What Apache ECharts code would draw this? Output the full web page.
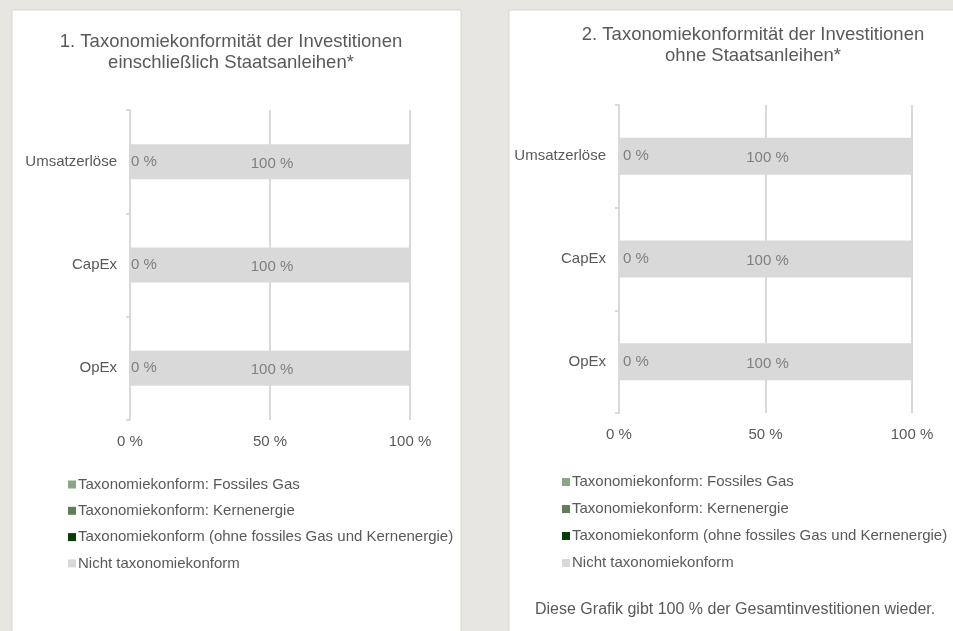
<!DOCTYPE html>
<html>
<head>
<meta charset="utf-8">
<script src="https://cdn.jsdelivr.net/npm/echarts@6/dist/echarts.min.js"></script>
<style>
html,body{margin:0;padding:0;background:#e8e6e1;}
#chart{width:953px;height:631px;}
</style>
</head>
<body>
<div id="chart"></div>
<script>
// ---- data ----
const categories = ['Umsatzerlöse', 'CapEx', 'OpEx'];
const seriesNames = [
  'Taxonomiekonform: Fossiles Gas',
  'Taxonomiekonform: Kernenergie',
  'Taxonomiekonform (ohne fossiles Gas und Kernenergie)',
  'Nicht taxonomiekonform'
];
const seriesColors = ['#8aa684', '#5e7f58', '#0b3b0b', '#d9d9d9'];
// Chart 1: including sovereign bonds
const gas1 = [0, 0, 0];
const nuclear1 = [0, 0, 0];
const aligned1 = [0, 0, 0];
const notAligned1 = [100, 100, 100];
// Chart 2: excluding sovereign bonds
const gas2 = [0, 0, 0];
const nuclear2 = [0, 0, 0];
const aligned2 = [0, 0, 0];
const notAligned2 = [100, 100, 100];
const xTickValues = [0, 50, 100];

const title1 = '1. Taxonomiekonformität der Investitionen\neinschließlich Staatsanleihen*';
const title2 = '2. Taxonomiekonformität der Investitionen\nohne Staatsanleihen*';
const footnote = 'Diese Grafik gibt 100 % der Gesamtinvestitionen wieder.';

// ---- styles ----
const FONT = '"Liberation Sans", Arial, sans-serif';
const TXT = '#595959';
const LBL = '#7f7f7f';
const GRID = '#d9d9d9';

const chart = echarts.init(document.getElementById('chart'), null, {renderer: 'canvas'});

function makeSeries(gridIdx, vals, barW, zeroDist) {
  return vals.map((v, i) => {
    const s = {
      name: seriesNames[i],
      type: 'bar',
      stack: 'total' + gridIdx,
      xAxisIndex: gridIdx,
      yAxisIndex: gridIdx,
      barWidth: barW,
      data: v,
      itemStyle: {color: seriesColors[i]},
      label: {show: false},
      emphasis: {disabled: true}
    };
    if (i === 2) {
      s.label = {show: true, position: 'right', distance: zeroDist, formatter: '{c} %',
        color: LBL, fontSize: 15, fontFamily: FONT};
    }
    if (i === 3) {
      s.label = {show: true, position: 'inside', offset: [2, 2], formatter: '{c} %',
        color: LBL, fontSize: 15, fontFamily: FONT};
    }
    return s;
  });
}

function xAx(gridIdx, margin) {
  return {
    gridIndex: gridIdx, type: 'value', min: 0, max: 100, interval: 50,
    axisLine: {show: false}, axisTick: {show: false},
    splitLine: {show: true, lineStyle: {color: GRID, width: 2}},
    axisLabel: {margin: margin, color: TXT, fontSize: 15, fontFamily: FONT,
      formatter: v => xTickValues.includes(v) ? v + ' %' : ''}
  };
}
function yAx(gridIdx) {
  return {
    gridIndex: gridIdx, type: 'category', inverse: true, data: categories,
    axisLine: {show: true, lineStyle: {color: GRID, width: 2}},
    axisTick: {show: true, length: 4, lineStyle: {color: GRID, width: 2}},
    axisLabel: {margin: 13, color: TXT, fontSize: 15, fontFamily: FONT},
    splitLine: {show: false}
  };
}

function legendAt(left, top, gap) {
  return {
    left: left, top: top,
    orient: 'vertical', itemWidth: 8, itemHeight: 8, itemGap: gap, padding: 0,
    icon: 'rect', selectedMode: false,
    textStyle: {color: TXT, fontSize: 15, fontFamily: FONT, lineHeight: 15, padding: [0, 0, 0, -3]},
    data: seriesNames
  };
}

const option = {
  animation: false,
  backgroundColor: '#e8e6e1',
  graphic: [
    {type: 'rect', shape: {x: 12, y: 10, width: 449, height: 640},
      style: {fill: '#ffffff', stroke: '#d8d6d1', lineWidth: 1}, z: -10},
    {type: 'rect', shape: {x: 509, y: 10, width: 460, height: 640},
      style: {fill: '#ffffff', stroke: '#d8d6d1', lineWidth: 1}, z: -10}
  ],
  title: [
    {text: title1, left: 231, top: 31, padding: 0, textAlign: 'center',
      textStyle: {color: TXT, fontSize: 18.5, fontWeight: 'normal', fontFamily: FONT, lineHeight: 21}},
    {text: title2, left: 753, top: 24, padding: 0, textAlign: 'center',
      textStyle: {color: TXT, fontSize: 18.5, fontWeight: 'normal', fontFamily: FONT, lineHeight: 21}},
    {text: footnote, left: 535, top: 602, padding: 0,
      textStyle: {color: TXT, fontSize: 16, fontWeight: 'normal', fontFamily: FONT}}
  ],
  legend: [
    legendAt(68, 477, 11.3),
    legendAt(562, 474.5, 12)
  ],
  grid: [
    {left: 130, top: 110, width: 280, height: 310},
    {left: 619, top: 105, width: 293, height: 308}
  ],
  xAxis: [xAx(0, 14), xAx(1, 14)],
  yAxis: [yAx(0), yAx(1)],
  series: [
    ...makeSeries(0, [gas1, nuclear1, aligned1, notAligned1], 35, 1),
    ...makeSeries(1, [gas2, nuclear2, aligned2, notAligned2], 37, 4)
  ]
};
chart.setOption(option);
</script>
</body>
</html>
